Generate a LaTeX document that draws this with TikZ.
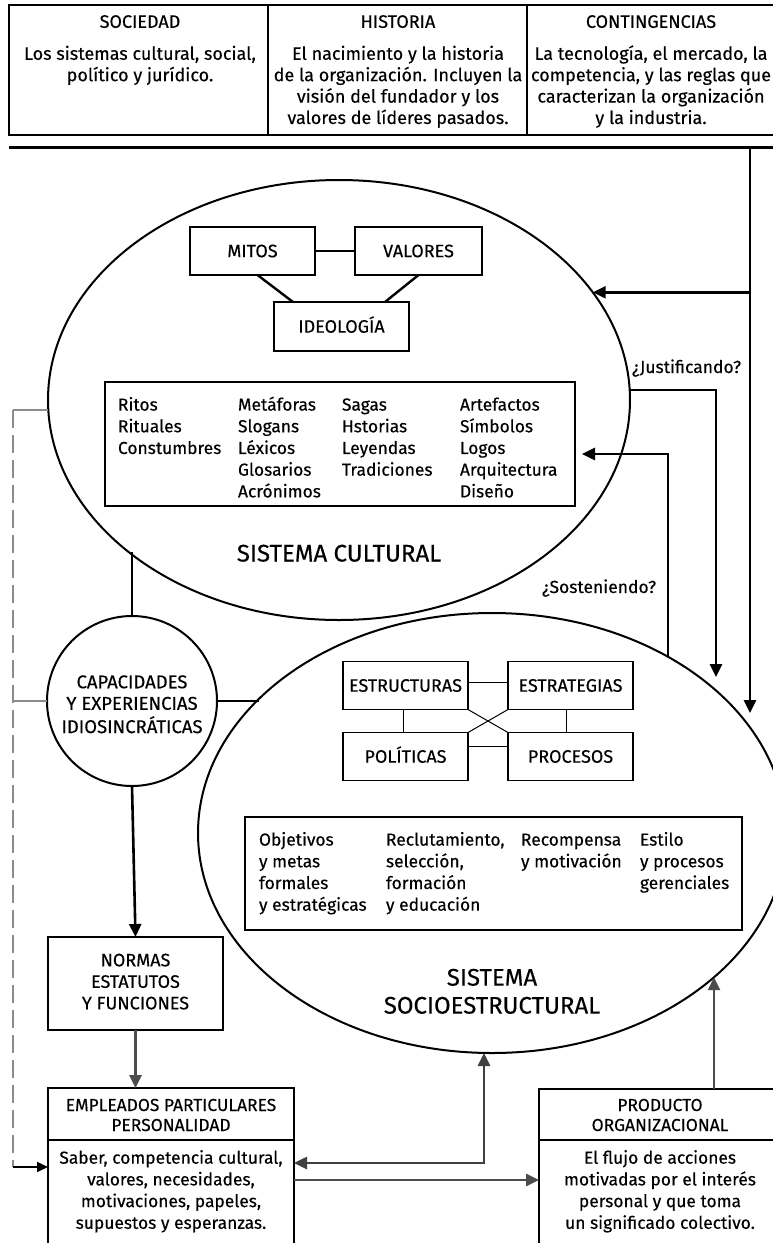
\documentclass[tikz,border=0pt]{standalone}
\usepackage{fontspec}
\setmainfont{Fira Sans}[FakeBold=0.3]
\usetikzlibrary{arrows.meta,shapes.geometric,calc}

% centred text block with even line spacing
\newcommand{\cblock}[1]{\begin{tabular}{@{}c@{}}#1\end{tabular}}

\begin{document}
\begin{tikzpicture}[x=1pt,y=-1pt,
  every node/.style={inner sep=0pt,outer sep=0pt},
  toptxt/.style={font=\fontsize{18}{21.4}\selectfont},
  txt/.style={font=\fontsize{18}{21.5}\selectfont},
  bodytxt/.style={font=\fontsize{17.4}{21.7}\selectfont},
  headtxt/.style={font=\fontsize{17.4}{20}\selectfont},
  topcell/.style={draw,line width=2.6pt,minimum height=130pt},
  heavyrule/.style={line width=3pt},
  sysellipse/.style={draw,ellipse,line width=2pt,minimum width=582pt,minimum height=440pt},
  listbox/.style={draw,line width=1.7pt},
  keybox/.style={draw,line width=1.7pt,minimum height=48pt,txt,text height=12.4pt,text depth=0pt},
  smallbox/.style={draw,line width=1.3pt,minimum width=125pt,minimum height=48pt,txt,text height=12.4pt,text depth=0pt},
  framebox/.style={draw,line width=2.2pt},
  link/.style={line width=2.4pt},
  finelink/.style={line width=1pt},
  arrowline/.style={line width=2.6pt,-{Triangle[length=13pt,width=12pt]}},
  grayarrow/.style={line width=2.6pt,draw=black!70,-{Triangle[length=13pt,width=12pt]}},
  stub/.style={line width=1.8pt,draw=black!45},
  dashline/.style={line width=2pt,draw=black!45,dash pattern=on 18pt off 7pt},
  divider/.style={line width=1.2pt},
  question/.style={font=\fontsize{17.5}{18}\selectfont,anchor=base west}
]
\useasboundingbox (0,0) rectangle (773,1243);
\clip (0,0) rectangle (773,1243);

% ---------- context boxes along the top ----------
\node[topcell,minimum width=259pt] (sociedad) at (138.5,70) {};
\node[topcell,minimum width=259pt] (historia) at (397.5,70) {};
\node[topcell,minimum width=253pt] (conting) at (653.5,70) {};

\node[toptxt,anchor=base] (sociedadT) at (140,27.8) {SOCIEDAD};
\node[toptxt,anchor=north] (sociedadB) at (140,44.8) {\cblock{Los sistemas cultural, social,\\político y jurídico.}};
\node[toptxt,anchor=base] (historiaT) at (398,27.8) {HISTORIA};
\node[toptxt,anchor=north] (historiaB) at (398,44.8) {\cblock{El nacimiento y la historia\\de la organización. Incluyen la\\visión del fundador y los\\valores de líderes pasados.}};
\node[toptxt,anchor=base] (contingT) at (651,27.8) {CONTINGENCIAS};
\node[toptxt,anchor=north] (contingB) at (651,44.8) {\cblock{La tecnología, el mercado, la\\competencia, y las reglas que\\caracterizan la organización\\y la industria.}};

% rule under the context boxes and the trunk that feeds both systems
\coordinate (ruleL) at (9,147);
\coordinate (ruleR) at (776,147);
\draw[heavyrule] (ruleL) -- (ruleR);
\coordinate (trunk) at (750,147);
\coordinate (trunkEnd) at (750,713);

% ---------- cultural system ----------
\node[sysellipse] (cult) at (339,400) {};
\node[keybox,minimum width=125pt] (mitos) at (252.5,251) {MITOS};
\node[keybox,minimum width=127pt] (valores) at (418.5,251) {VALORES};
\node[keybox,minimum width=135pt,minimum height=49pt] (ideo) at (341.5,326.5) {IDEOLOGÍA};
\draw[link] (mitos) -- (valores);
\draw[link] ([xshift=5pt]mitos.south) -- ([xshift=-48.5pt]ideo.north);
\draw[link] (valores.south) -- ([xshift=43.5pt]ideo.north);

\node[listbox,minimum width=470pt,minimum height=124pt] (cbox) at (340,444) {};
\node[bodytxt,anchor=north west] (clist) at (118,395.4) {%
  \begin{tabular}{@{}p{120pt}@{}p{104pt}@{}p{118pt}@{}l@{}}
  Ritos & Metáforas & Sagas & Artefactos\\
  Rituales & Slogans & Hstorias & Símbolos\\
  Constumbres & Léxicos & Leyendas & Logos\\
   & Glosarios & Tradiciones & Arquitectura\\
   & Acrónimos & & Diseño
  \end{tabular}};
\node[font=\fontsize{24}{28}\selectfont,anchor=base] (cultT) at (339,561.5) {SISTEMA CULTURAL};

% ---------- socio-structural system ----------
\node[sysellipse,minimum width=588pt] (soc) at (492,833) {};
\node[smallbox] (estruc) at (405.5,685.5) {ESTRUCTURAS};
\node[smallbox] (estrat) at (570.5,685.5) {ESTRATEGIAS};
\node[smallbox] (polit) at (405.5,756.5) {POLÍTICAS};
\node[smallbox] (proc) at (570.5,756.5) {PROCESOS};
\draw[finelink] ([yshift=3.5pt]estruc.east) -- ([yshift=3.5pt]estrat.west);
\draw[finelink] ([yshift=10.5pt]polit.east) -- ([yshift=10.5pt]proc.west);
\draw[finelink] ([xshift=-2.5pt]estruc.south) -- ([xshift=-2.5pt]polit.north);
\draw[finelink] ([xshift=-4.5pt]estrat.south) -- ([xshift=-4.5pt]proc.north);
\draw[finelink] (estruc.south east) -- (proc.north west);
\draw[finelink] (polit.north east) -- (estrat.south west);

\node[listbox,minimum width=497pt,minimum height=113pt] (sbox) at (493.5,873.5) {};
\node[bodytxt,anchor=north west] (slist) at (259,830.4) {%
  \begin{tabular}{@{}p{127pt}@{}p{135pt}@{}p{119pt}@{}l@{}}
  Objetivos & Reclutamiento, & Recompensa & Estilo\\
  y metas & selección, & y motivación & y procesos\\
  formales & formación & & gerenciales\\
  y estratégicas & y educación & &
  \end{tabular}};
\node[font=\fontsize{24}{28}\selectfont,anchor=north] (socT) at (492,966) {\cblock{SISTEMA\\SOCIOESTRUCTURAL}};

% ---------- individual side ----------
\node[draw,circle,line width=2pt,minimum size=170pt] (circ) at (132,701) {};
\node[font=\fontsize{18.5}{21.5}\selectfont,anchor=north] (circT) at (132,673.2) {\cblock{CAPACIDADES\\Y EXPERIENCIAS\\IDIOSINCRÁTICAS}};

\node[framebox,minimum width=175pt,minimum height=93pt,txt] (norm) at (135.5,983.5) {\cblock{NORMAS\\ESTATUTOS\\Y FUNCIONES}};

\node[framebox,minimum width=246pt,minimum height=162pt] (emp) at (171,1169) {};
\draw[divider] (emp.north west |- 0,1140) -- (emp.north east |- 0,1140);
\node[headtxt,anchor=north] (empT) at (171,1097) {\cblock{EMPLEADOS PARTICULARES\\PERSONALIDAD}};
\node[bodytxt,anchor=north] (empB) at (171,1148.5) {\cblock{Saber, competencia cultural,\\valores, necesidades,\\motivaciones, papeles,\\supuestos y esperanzas.}};

\node[framebox,minimum width=242pt,minimum height=161pt] (prod) at (660,1169.5) {};
\draw[divider] (prod.north west |- 0,1140) -- (prod.north east |- 0,1140);
\node[headtxt,anchor=north] (prodT) at (660,1097) {\cblock{PRODUCTO\\ORGANIZACIONAL}};
\node[bodytxt,anchor=north] (prodB) at (660,1148.5) {\cblock{El flujo de acciones\\motivadas por el interés\\personal y que toma\\un significado colectivo.}};

% ---------- connectors ----------
\draw[arrowline] (trunk) -- (trunkEnd);
\draw[arrowline] (trunk |- cult.23.84) -- (cult.23.84);

\coordinate (justEnd) at (716,677);
\draw[arrowline] (cult.2.56) -| (justEnd);
\node[question] (justif) at (632,373) {¿Justificando?};

\draw[arrowline] (soc.45) |- ($(cbox.east)+(7,10)$);
\node[question] (sosten) at (542,593) {¿Sosteniendo?};

\draw[link] (circ.north) -- (circ.north |- cult.216.6);
\draw[link] (circ.east) -- (circ.east -| soc.150.9);
\draw[arrowline] (circ.south) -- (norm.south |- norm.north);
\draw[grayarrow] (norm.south) -- (norm.south |- emp.north);

\draw[line width=2.6pt,draw=black!75,{Triangle[length=13pt,width=12pt]}-{Triangle[length=13pt,width=12pt]}]
  ([xshift=-8pt]soc.south) |- ($(emp.north east)+(0,75)$);
\draw[grayarrow] ($(emp.north east)+(0,92)$) -- ($(prod.north west)+(0,91)$);
\draw[grayarrow] (prod.north -| soc.-33.3) -- (soc.-33.3);

% dashed feedback path on the left
\coordinate (dashTop) at (cult.182.6 -| 13,0);
\coordinate (dashBot) at (13,1167);
\draw[stub] (cult.182.6) -- (dashTop);
\draw[stub] (circ.west) -- (circ.west -| dashTop);
\draw[dashline] (dashTop) -- (dashBot);
\draw[line width=1.8pt,-{Triangle[length=11pt,width=10pt]}] (dashBot) -- (emp.west |- dashBot);
\end{tikzpicture}
\end{document}
